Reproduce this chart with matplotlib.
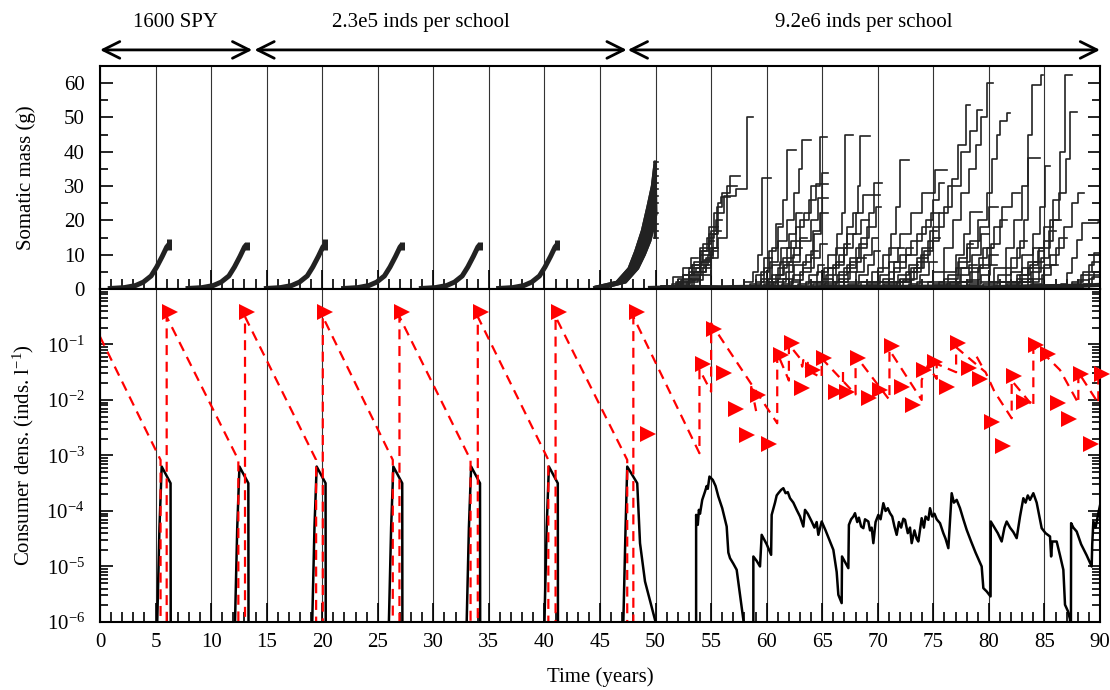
import numpy as np
import matplotlib
matplotlib.use("Agg")
import matplotlib.pyplot as plt
from matplotlib.patches import FancyArrowPatch, ArrowStyle
from matplotlib.ticker import MultipleLocator, LogLocator, NullFormatter, FixedLocator, FixedFormatter

plt.rcParams["font.family"] = ["Liberation Serif", "DejaVu Serif"]
plt.rcParams["mathtext.fontset"] = "custom"
plt.rcParams["mathtext.rm"] = "Liberation Serif"
plt.rcParams["mathtext.it"] = "Liberation Serif:italic"
plt.rcParams["font.size"] = 15

_INK = "#222222"
_GRID = "#333333"
_RED = "#ff0000"

# ---- regimes (top arrows) ----
REGIME_LABELS = ["1600 SPY", "2.3e5 inds per school", "9.2e6 inds per school"]
REGIME_START = [0.0, 13.9, 47.5]
REGIME_END = [13.7, 47.4, 90.0]
REGIME_LABEL_X = [6.8, 28.9, 68.7]

# ---- somatic mass: early cohorts (tight bundles) ----
SMALL_END = [6.2, 13.2, 20.25, 27.2, 34.2, 41.15]
SMALL_TOP = [14.5, 13.6, 14.5, 13.8, 13.8, 14.4]
SMALL_SHAPE_DT = [-5.5, -4.0, -3.0, -2.3, -1.6, -1.1, -0.6, -0.2, 0.0]
SMALL_SHAPE_M = [0.1, 0.4, 1.0, 2.0, 3.8, 6.4, 9.5, 12.2, 13.0]

BIG_LEFT_T = [44.5, 46.5, 47.6, 48.2, 48.8, 49.3, 49.7, 49.95]
BIG_LEFT_M = [0.5, 2.0, 6.0, 11.0, 17.0, 24.0, 30.0, 37.0]
BIG_RIGHT_T = [45.5, 47.3, 48.4, 49.0, 49.5, 49.8, 50.05]
BIG_RIGHT_M = [0.5, 2.0, 6.0, 10.0, 14.0, 18.0, 22.0]
BIG_END_M = [15, 17, 19, 22, 25, 27, 29, 31, 33, 35, 37]

# ---- somatic mass: individual trajectories after 50 y (time, mass) ----
GROUP_55 = [
    [(50.0, 0.5), (51.5, 1.5), (52.5, 4.0), (53.3, 7.0), (54.0, 11.0), (54.6, 15.0), (55.3, 22.0), (56.2, 27.0), (57.2, 29.0), (58.2, 50.2), (58.8, 50.2)],
    [(50.5, 0.5), (52.0, 2.0), (53.0, 5.0), (54.0, 10.0), (54.8, 16.0), (55.5, 24.0), (56.0, 28.0), (56.7, 33.0), (57.6, 33.0)],
    [(50.2, 0.5), (51.8, 2.0), (53.0, 6.0), (54.0, 12.0), (54.8, 18.0), (55.6, 25.0), (55.9, 26.9), (56.7, 26.9)],
    [(51.0, 1.0), (52.5, 4.0), (53.5, 8.0), (54.3, 13.0), (55.0, 17.0), (55.4, 20.0), (56.0, 20.0)],
    [(50.5, 1.0), (52.0, 3.0), (53.3, 7.0), (54.2, 11.0), (54.8, 14.0), (55.3, 14.0)],
    [(52.0, 1.0), (53.5, 5.0), (54.5, 9.0), (55.2, 12.0), (55.6, 12.0)],
    [(49.8, 0.3), (50.5, 1.0), (51.6, 3.6), (52.5, 6.0), (53.2, 9.0), (53.8, 9.0)],
    [(51.5, 0.5), (53.0, 3.0), (54.0, 7.0), (54.7, 10.0), (55.2, 16.0), (55.6, 18.0)],
    [(50.8, 0.5), (52.3, 2.5), (53.6, 6.0), (54.4, 8.5), (55.0, 8.5)],
    [(52.5, 0.5), (54.0, 4.0), (55.0, 9.0), (55.6, 15.0), (56.4, 30.0), (57.3, 30.0)],
    [(51.2, 0.5), (52.8, 2.0), (53.8, 5.0), (54.5, 7.0), (54.9, 7.0)],
    [(52.2, 0.5), (53.3, 2.5), (54.3, 6.0), (55.0, 11.0), (55.5, 11.0)],
    [(50.3, 0.5), (51.9, 1.5), (53.1, 4.0), (54.1, 8.0), (54.9, 12.0), (55.5, 17.0), (55.9, 17.0)],
]
GROUP_60 = [
    [(56.5, 0.5), (58.0, 2.0), (58.8, 5.0), (59.2, 10.0), (59.55, 16.0), (59.6, 32.3), (60.4, 32.3)],
    [(57.5, 0.5), (59.0, 2.0), (59.8, 6.0), (60.5, 12.0), (61.0, 18.0), (61.5, 26.0), (61.8, 40.5), (62.6, 40.5)],
    [(58.0, 0.5), (59.5, 3.0), (60.3, 8.0), (61.0, 14.0), (61.8, 20.0), (62.5, 28.0), (62.9, 35.0), (63.15, 43.4), (64.0, 43.4)],
    [(58.5, 0.5), (60.0, 2.0), (61.0, 6.0), (61.8, 12.0), (62.6, 18.0), (63.4, 22.0), (64.0, 30.0), (64.8, 44.4), (65.4, 44.4)],
    [(58.0, 0.5), (59.5, 2.0), (60.5, 7.0), (61.3, 12.0), (62.0, 16.0), (62.6, 22.0), (63.2, 22.0)],
    [(59.0, 0.5), (60.2, 3.0), (61.2, 8.0), (62.2, 14.0), (63.0, 20.0), (63.8, 26.0), (64.4, 30.6), (65.5, 30.6)],
    [(59.5, 0.5), (61.0, 3.0), (62.0, 8.0), (63.0, 14.0), (64.0, 20.0), (64.6, 26.4), (65.5, 26.4)],
    [(59.0, 1.0), (60.5, 4.0), (61.5, 9.0), (62.5, 12.0), (63.2, 12.0)],
    [(60.0, 0.5), (61.5, 3.0), (62.5, 7.0), (63.5, 10.0), (64.2, 17.0), (64.8, 22.0), (65.0, 33.7), (65.5, 33.7)],
    [(57.8, 0.5), (59.0, 4.0), (59.8, 9.0), (60.5, 9.0)],
    [(60.5, 0.5), (62.0, 2.0), (63.0, 5.0), (64.0, 9.0), (64.8, 13.0), (65.4, 13.0)],
    [(57.0, 0.3), (58.5, 1.5), (59.5, 5.0), (60.2, 11.0), (60.8, 19.0), (61.3, 19.0)],
    [(61.0, 0.5), (62.3, 2.5), (63.3, 6.0), (64.3, 16.0), (64.9, 22.0), (65.5, 22.0)],
    [(58.3, 0.5), (59.8, 1.5), (60.8, 4.0), (61.6, 7.0), (62.3, 7.0)],
    [(59.3, 0.5), (60.6, 2.0), (61.7, 5.0), (62.4, 10.0), (63.0, 15.0), (63.6, 15.0)],
    [(60.2, 0.5), (61.4, 1.5), (62.4, 4.0), (63.3, 8.0), (64.0, 11.0), (64.6, 11.0)],
    [(61.5, 0.3), (62.8, 1.5), (63.8, 4.0), (64.6, 7.0), (65.2, 7.0)],
]
GROUP_66 = [
    [(62.0, 0.5), (63.5, 2.0), (64.5, 5.0), (65.5, 10.0), (66.3, 16.0), (66.8, 22.0), (67.05, 44.9), (67.8, 44.9)],
    [(62.5, 0.5), (64.0, 2.0), (65.2, 6.0), (66.2, 12.0), (67.2, 18.0), (67.8, 22.0), (68.2, 30.0), (68.4, 44.6), (69.3, 44.6)],
    [(63.0, 0.5), (64.5, 2.0), (65.5, 6.0), (66.5, 10.0), (67.2, 16.0), (68.0, 22.0), (68.7, 27.4), (70.2, 27.4)],
    [(63.5, 0.5), (65.0, 3.0), (66.0, 7.0), (67.0, 12.0), (67.8, 16.0), (68.5, 20.0), (69.2, 20.0)],
    [(64.0, 0.5), (65.5, 2.0), (66.5, 5.0), (67.5, 9.0), (68.3, 13.0), (69.0, 13.0)],
    [(64.5, 0.5), (66.0, 2.0), (67.0, 6.0), (68.0, 12.0), (69.0, 18.0), (69.8, 24.0), (70.3, 24.0)],
    [(65.0, 0.5), (66.5, 3.0), (67.5, 8.0), (68.5, 15.0), (69.2, 22.0), (69.7, 31.0), (70.4, 31.0)],
    [(65.5, 0.5), (67.0, 2.0), (68.0, 5.0), (68.8, 10.0), (69.5, 15.0), (70.0, 15.0)],
    [(62.8, 0.5), (64.2, 1.5), (65.3, 4.0), (66.2, 8.0), (67.0, 13.0), (67.5, 13.0)],
    [(63.8, 0.5), (65.2, 1.5), (66.3, 4.0), (67.2, 7.0), (67.9, 7.0)],
    [(64.8, 0.5), (66.2, 2.0), (67.3, 5.0), (68.1, 9.0), (68.9, 9.0)],
    [(66.0, 0.3), (67.3, 1.5), (68.3, 4.0), (69.1, 7.0), (69.7, 11.0), (70.2, 11.0)],
]
GROUP_72 = [
    [(66.5, 0.5), (68.0, 2.0), (69.5, 5.0), (70.5, 10.0), (71.2, 16.0), (71.6, 24.0), (72.0, 37.6), (72.8, 37.6)],
    [(67.0, 0.5), (68.5, 2.0), (70.0, 6.0), (71.0, 12.0), (72.0, 16.0), (73.0, 22.0), (74.0, 28.0), (75.15, 34.7), (76.2, 34.7)],
    [(68.0, 0.5), (69.5, 2.0), (71.0, 5.0), (72.0, 10.0), (73.0, 14.0), (74.0, 18.0), (74.8, 22.0), (75.5, 22.0)],
    [(68.5, 0.5), (70.0, 2.0), (71.5, 6.0), (72.5, 10.0), (73.5, 16.0), (74.3, 20.0), (75.0, 26.0), (75.5, 31.0), (76.0, 31.0)],
    [(69.0, 0.5), (70.5, 3.0), (71.5, 8.0), (72.5, 12.0), (73.2, 12.0)],
    [(70.0, 0.5), (71.5, 2.0), (73.0, 6.0), (74.0, 12.0), (75.0, 18.0), (76.0, 24.0), (76.7, 32.0), (77.2, 42.0), (77.9, 53.6), (78.3, 53.6)],
    [(70.5, 0.5), (72.0, 3.0), (73.5, 8.0), (74.5, 14.0), (75.5, 22.0), (76.3, 30.0), (77.5, 40.0), (78.3, 46.0), (78.9, 52.2), (79.4, 52.2)],
    [(69.5, 0.5), (71.0, 2.0), (72.5, 5.0), (73.5, 9.0), (74.5, 9.0)],
    [(71.0, 0.5), (72.3, 2.5), (73.3, 6.0), (74.2, 11.0), (75.0, 15.0), (75.6, 15.0)],
    [(67.5, 0.5), (69.0, 1.5), (70.2, 4.0), (71.0, 8.0), (71.8, 12.0), (72.4, 12.0)],
    [(69.2, 0.5), (70.6, 1.5), (71.8, 4.0), (72.8, 7.0), (73.6, 7.0)],
    [(71.5, 0.3), (72.8, 1.5), (73.8, 4.0), (74.6, 8.0), (75.3, 8.0)],
    [(70.2, 0.5), (71.7, 2.0), (72.9, 5.0), (73.9, 10.0), (74.7, 17.0), (75.3, 17.0)],
]
GROUP_78 = [
    [(72.0, 0.5), (73.5, 2.0), (75.0, 5.0), (76.0, 12.0), (76.8, 20.0), (77.5, 28.0), (78.2, 35.0), (78.8, 42.0), (79.3, 50.0), (79.8, 60.0), (80.4, 60.0)],
    [(73.0, 0.5), (74.5, 2.0), (76.0, 5.0), (77.0, 10.0), (77.8, 16.0), (78.3, 22.5), (79.4, 22.5)],
    [(74.0, 0.5), (75.5, 2.0), (77.0, 6.0), (78.0, 12.0), (79.0, 20.0), (79.8, 28.0), (80.3, 38.0), (80.7, 45.0), (81.0, 49.0), (81.6, 51.2), (81.9, 51.2)],
    [(74.5, 0.5), (76.0, 3.0), (77.2, 8.0), (78.3, 14.0), (79.2, 18.0), (80.0, 24.0), (80.8, 24.0)],
    [(75.0, 0.5), (76.5, 2.0), (77.5, 6.0), (78.5, 10.0), (79.3, 16.0), (80.0, 16.0)],
    [(75.5, 0.5), (77.0, 2.0), (78.5, 6.0), (79.5, 12.0), (80.5, 18.0), (81.2, 24.0), (82.05, 27.9), (82.8, 27.9)],
    [(76.0, 0.5), (77.5, 2.0), (79.0, 6.0), (80.0, 10.0), (80.8, 10.0)],
    [(73.5, 0.5), (75.0, 1.5), (76.3, 4.0), (77.3, 9.0), (78.0, 13.0), (78.6, 13.0)],
    [(76.5, 0.5), (78.0, 2.5), (79.2, 7.0), (80.2, 13.0), (81.0, 20.0), (81.6, 20.0)],
    [(74.8, 0.5), (76.2, 1.5), (77.4, 4.0), (78.2, 7.0), (78.9, 7.0)],
    [(76.8, 0.3), (78.2, 1.5), (79.3, 4.0), (80.1, 7.0), (80.7, 7.0)],
    [(75.8, 0.5), (77.2, 2.0), (78.3, 5.0), (79.1, 9.0), (79.8, 12.0), (80.4, 12.0)],
]
GROUP_84 = [
    [(77.5, 0.5), (79.0, 2.0), (80.5, 6.0), (81.5, 12.0), (82.3, 20.0), (83.0, 30.0), (83.5, 45.0), (83.85, 59.5), (84.6, 59.5), (84.65, 62.4), (84.9, 62.4)],
    [(78.5, 0.5), (80.0, 2.0), (81.5, 6.0), (82.5, 12.0), (83.2, 20.0), (83.55, 38.1), (84.6, 38.1)],
    [(79.0, 0.5), (80.5, 2.0), (82.0, 5.0), (83.0, 10.0), (84.0, 16.0), (84.6, 24.0), (85.05, 35.7), (85.5, 35.7)],
    [(80.0, 0.5), (81.5, 2.0), (83.0, 6.0), (84.0, 12.0), (85.0, 18.0), (85.8, 26.0), (86.4, 40.0), (86.85, 62.4), (87.45, 62.4)],
    [(80.5, 0.5), (82.0, 2.0), (83.5, 6.0), (84.5, 12.0), (85.5, 20.0), (86.3, 28.0), (86.9, 38.0), (87.3, 51.7), (87.9, 51.7)],
    [(81.0, 0.5), (82.5, 3.0), (84.0, 8.0), (85.0, 14.0), (85.8, 20.0), (86.5, 20.0)],
    [(81.5, 0.5), (83.0, 2.0), (84.5, 6.0), (85.5, 10.0), (86.3, 15.0), (87.0, 15.0)],
    [(79.5, 0.5), (81.0, 2.0), (82.5, 4.0), (83.5, 8.0), (84.3, 8.0)],
    [(82.0, 0.5), (83.5, 3.0), (85.0, 7.0), (86.0, 12.0), (86.8, 18.0), (87.5, 25.0), (88.0, 28.0), (88.6, 28.0)],
    [(78.0, 0.5), (79.5, 1.5), (80.8, 4.0), (82.0, 9.0), (82.8, 14.0), (83.4, 14.0)],
    [(80.2, 0.5), (81.6, 1.5), (82.8, 4.0), (83.7, 7.0), (84.4, 11.0), (85.0, 11.0)],
    [(82.5, 0.3), (83.8, 1.5), (84.8, 4.0), (85.6, 7.0), (86.2, 7.0)],
    [(81.2, 0.5), (82.6, 2.0), (83.8, 5.0), (84.7, 9.0), (85.4, 17.0), (86.0, 17.0)],
]
GROUP_89 = [
    [(85.5, 0.3), (86.5, 1.5), (87.0, 4.6), (87.5, 9.0), (87.9, 14.3), (88.35, 19.1), (89.85, 19.6), (90.0, 19.6)],
    [(86.5, 0.3), (87.5, 1.5), (88.3, 4.0), (89.0, 7.0), (89.5, 10.4), (90.0, 10.4)],
    [(87.0, 0.3), (88.0, 1.0), (89.0, 3.0), (89.5, 5.0), (90.0, 6.0)],
    [(86.0, 0.3), (87.5, 2.0), (88.5, 5.0), (89.3, 8.0), (90.0, 8.0)],
    [(87.5, 0.3), (88.5, 1.5), (89.3, 3.5), (90.0, 4.5)],
    [(85.0, 0.3), (86.8, 1.0), (88.0, 2.5), (89.0, 4.0), (90.0, 5.0)],
]

# dense layer of small fish along the bottom
FLOOR_T = [49.5, 53.0, 56.0, 60.0, 64.0, 68.0, 72.0, 76.0, 80.0, 84.0, 88.0, 90.0]
FLOOR_M = [0.3, 0.6, 0.5, 0.7, 0.5, 0.7, 0.6, 0.7, 0.5, 0.8, 0.9, 1.2]

# ---- consumer density (log10 of inds/l) ----
BLACK_RISE = [5.35, 12.35, 19.3, 26.2, 33.2, 40.2]
BLACK_SHAPE_DT = [-0.25, -0.2, 0.0, 0.2, 1.0, 1.02]
BLACK_SHAPE_LOG = [-7.0, -6.0, -4.3, -3.2, -3.5, -7.0]

BLACK_LATE = [
    [(47.05, -7.0), (47.1, -6.0), (47.3, -4.3), (47.45, -3.2), (48.35, -3.5), (48.6, -4.58),
     (49.05, -5.27), (50.0, -6.0), (50.1, -6.3)],
    [(53.6, -7.0), (53.65, -6.0), (53.65, -4.07), (53.8, -4.25), (53.9, -3.98), (54.0, -4.05),
     (54.2, -3.8), (54.45, -3.65), (54.6, -3.55), (54.7, -3.6), (54.85, -3.38), (55.15, -3.44),
     (55.4, -3.55), (55.65, -3.74), (56.0, -3.95), (56.4, -4.28), (56.55, -4.75), (56.7, -4.85),
     (57.0, -4.95), (57.3, -5.06), (57.6, -5.51), (57.9, -5.96), (58.05, -6.3)],
    [(58.8, -7.0), (58.8, -4.82), (59.1, -4.9), (59.4, -5.0), (59.55, -4.43), (60.0, -4.6),
     (60.4, -4.79), (60.45, -4.07), (60.75, -3.85), (60.9, -3.72), (61.05, -3.68), (61.3, -3.62),
     (61.5, -3.59), (61.7, -3.68), (61.9, -3.66), (62.1, -3.77), (62.4, -3.85), (62.7, -3.98),
     (63.0, -4.1), (63.3, -4.28), (63.45, -3.98), (63.7, -4.05), (64.05, -4.19), (64.3, -4.3),
     (64.5, -4.2), (64.65, -4.43), (64.95, -4.19), (65.3, -4.35), (65.6, -4.5), (66.0, -4.7),
     (66.3, -5.1), (66.45, -5.51), (66.75, -5.66), (66.78, -4.82), (67.35, -5.03), (67.4, -4.25),
     (67.6, -4.15), (67.8, -4.1), (67.95, -4.04), (68.15, -4.2), (68.3, -4.12), (68.5, -4.28),
     (68.7, -4.31), (68.85, -4.15), (69.15, -4.19), (69.3, -4.35), (69.45, -4.3), (69.6, -4.58),
     (69.8, -4.2), (70.05, -4.07), (70.25, -4.15), (70.5, -3.86), (70.7, -4.0), (70.9, -3.95),
     (71.1, -4.04), (71.3, -4.1), (71.5, -4.28), (71.7, -4.43), (71.9, -4.2), (72.1, -4.3),
     (72.3, -4.14), (72.45, -4.16), (72.7, -4.4), (72.9, -4.3), (73.05, -4.58), (73.3, -4.35),
     (73.5, -4.5), (73.65, -4.55), (73.95, -4.13), (74.15, -4.3), (74.3, -4.1), (74.55, -4.16),
     (74.7, -3.95), (74.9, -4.1), (75.1, -4.05), (75.3, -4.15), (75.6, -4.22), (75.9, -4.4),
     (76.1, -4.5), (76.35, -4.67), (76.65, -3.68), (76.85, -3.85), (77.1, -3.8), (77.4, -3.95),
     (77.7, -4.15), (78.0, -4.34), (78.4, -4.55), (78.8, -4.75), (79.35, -5.0), (79.5, -5.39),
     (79.8, -5.45), (80.15, -5.54), (80.17, -4.19), (80.5, -4.3), (80.8, -4.4), (81.15, -4.55),
     (81.4, -4.3), (81.6, -4.19), (81.9, -4.3), (82.2, -4.38), (82.5, -4.49), (82.8, -4.1),
     (83.1, -3.77), (83.3, -3.85), (83.5, -3.72), (83.7, -3.8), (84.0, -3.68), (84.3, -3.85),
     (84.5, -4.05), (84.75, -4.31), (85.1, -4.4), (85.5, -4.46), (85.6, -4.82), (85.7, -4.55),
     (86.1, -4.55), (86.4, -4.8), (86.7, -5.06), (86.85, -5.69), (87.1, -5.8), (87.3, -5.95),
     (87.32, -6.3), (87.38, -6.3), (87.4, -4.22), (87.6, -4.3), (87.9, -4.37), (88.3, -4.6),
     (88.8, -4.8), (89.25, -5.0), (89.3, -4.6), (89.4, -4.19), (89.6, -4.3), (89.85, -4.04),
     (90.0, -3.9)],
]

# ---- red dashed school trajectory (log10) ----
RED_START = (0.0, -0.86)
RED_DOWN_X = [5.45, 12.45, 19.45, 26.35, 33.35, 40.35, 47.45]
RED_UP_X = [6.0, 13.05, 20.05, 26.95, 34.0, 41.0, 48.0]
RED_LOW_LOG = -3.08
RED_TOP_LOG = -0.5
RED_LATE_X = [53.95, 53.95, 55.0, 55.0, 60.95, 60.95, 62.0, 62.0, 63.0, 63.2, 63.3, 63.6, 63.7,
              64.0, 64.95, 64.95, 68.0, 68.0, 71.05, 71.05, 73.95, 73.95, 74.5, 75.3, 75.3,
              77.05, 77.05, 79.7, 80.5, 82.05, 82.05, 84.0, 84.0, 85.2, 86.4, 88.05, 88.05,
              89.85, 89.85]
RED_LATE_LOG = [-2.96, -1.45, -1.85, -0.62, -2.42, -1.15, -1.65, -1.0, -1.25, -1.4, -1.28, -1.45,
                -1.33, -1.5, -1.6, -1.25, -1.9, -1.2, -2.0, -1.1, -2.0, -1.64, -1.38, -1.62,
                -1.35, -1.5, -1.05, -1.5, -1.85, -2.33, -1.65, -2.12, -1.05, -1.22, -1.46,
                -2.06, -1.5, -2.06, -1.55]
RED_EXTRA = [
    [(58.6, -1.75), (59.05, -2.2)],
    [(66.9, -1.5), (66.9, -1.72)],
    [(78.9, -1.22), (79.65, -1.49)],
]

TRI_X = [6.3, 13.25, 20.25, 27.2, 34.3, 41.3, 48.3, 49.3, 54.25, 55.25, 56.2, 57.25, 58.25,
         59.25, 60.25, 61.25, 62.25, 63.2, 64.2, 65.2, 66.2, 67.2, 68.2, 69.25, 70.2, 71.25,
         72.15, 73.2, 74.2, 75.15, 76.2, 77.2, 78.2, 79.2, 80.25, 81.25, 82.3, 83.2, 84.2,
         85.3, 86.2, 87.2, 88.3, 89.2, 90.2]
TRI_LOG = [-0.42, -0.42, -0.42, -0.42, -0.42, -0.42, -0.42, -2.62, -1.36, -0.72, -1.52, -2.17,
           -2.63, -1.91, -2.79, -1.19, -0.97, -1.78, -1.46, -1.24, -1.86, -1.86, -1.24, -1.97,
           -1.82, -1.03, -1.77, -2.09, -1.46, -1.31, -1.76, -0.98, -1.43, -1.63, -2.39, -2.83,
           -1.56, -2.03, -1.01, -1.17, -2.05, -2.35, -1.53, -2.79, -1.54]

X_TICKS = list(range(0, 91, 5))
MASS_TICKS = [0, 10, 20, 30, 40, 50, 60]
DENS_DECADES = [-6, -5, -4, -3, -2, -1, 0]


def style_axis(ax):
    for sp in ax.spines.values():
        sp.set_linewidth(1.5)
    ax.set_xlim(0, 90)
    ax.xaxis.set_major_locator(FixedLocator(X_TICKS))
    ax.xaxis.set_minor_locator(MultipleLocator(1))
    ax.grid(axis="x", which="major", color=_GRID, lw=0.8)
    ax.set_axisbelow(True)
    ax.tick_params(axis="x", which="major", direction="in", length=14, width=1.2, top=False, pad=8)
    ax.tick_params(axis="x", which="minor", direction="in", length=7, width=1.2, top=False)
    ax.tick_params(axis="y", which="major", direction="in", length=9, width=1.2, left=True, right=True, pad=11)
    ax.tick_params(axis="y", which="minor", direction="in", length=6, width=1.2, left=True, right=True)


fig = plt.figure(figsize=(11.1, 6.9), dpi=100)
ax_top = fig.add_axes([0.0901, 0.5812, 0.9009, 0.3232])
ax_bot = fig.add_axes([0.0901, 0.0986, 0.9009, 0.4826])

# ---------- top panel ----------
style_axis(ax_top)
ax_top.set_ylim(0, 65)
ax_top.yaxis.set_major_locator(FixedLocator(MASS_TICKS))
ax_top.yaxis.set_minor_locator(MultipleLocator(5))
ax_top.tick_params(axis="x", labelbottom=False)
ax_top.set_ylabel("Somatic mass (g)")
ax_top.yaxis.set_label_coords(-0.064, 0.5)

for end, top in zip(SMALL_END, SMALL_TOP):
    t = [end + d for d in SMALL_SHAPE_DT]
    ax_top.plot(t, SMALL_SHAPE_M, color=_INK, lw=3.6, solid_capstyle="butt")
    ax_top.plot([end, end], [11.5, top], color=_INK, lw=3.6, solid_capstyle="butt")

ax_top.fill(BIG_LEFT_T + BIG_RIGHT_T[::-1], BIG_LEFT_M + BIG_RIGHT_M[::-1], color=_INK, lw=2)
ax_top.plot(BIG_LEFT_T, BIG_LEFT_M, color=_INK, lw=2)
ax_top.plot(BIG_RIGHT_T, BIG_RIGHT_M, color=_INK, lw=2)
ax_top.plot([49.95, 50.0], [15, 37], color=_INK, lw=2)
for m in BIG_END_M:
    ax_top.plot([49.9, 50.2], [m, m], color=_INK, lw=1.2)

ax_top.plot(FLOOR_T, FLOOR_M, color=_INK, lw=3.0)
for group in (GROUP_55, GROUP_60, GROUP_66, GROUP_72, GROUP_78, GROUP_84, GROUP_89):
    for traj in group:
        t, m = zip(*traj)
        ax_top.plot(t, m, drawstyle="steps-post", color=_INK, lw=1.2)

for x0, x1, lab, lx in zip(REGIME_START, REGIME_END, REGIME_LABELS, REGIME_LABEL_X):
    arr = FancyArrowPatch((x0, 1.072), (x1, 1.072),
                          transform=ax_top.get_xaxis_transform(),
                          arrowstyle=ArrowStyle("<->", head_length=12, head_width=6),
                          mutation_scale=1, lw=2.0, color="black",
                          shrinkA=0, shrinkB=0, clip_on=False)
    ax_top.add_artist(arr)
    ax_top.text(lx, 1.197, lab, transform=ax_top.get_xaxis_transform(),
                ha="center", va="center")

# ---------- bottom panel ----------
style_axis(ax_bot)
ax_bot.set_yscale("log")
ax_bot.set_ylim(1e-6, 1)
ax_bot.yaxis.set_major_locator(FixedLocator([10.0 ** d for d in DENS_DECADES]))
ax_bot.yaxis.set_major_formatter(FixedFormatter(
    [r"$10^{%d}$" % d if d < 0 else "" for d in DENS_DECADES]))
ax_bot.yaxis.set_minor_locator(LogLocator(base=10, subs=range(2, 10), numticks=20))
ax_bot.yaxis.set_minor_formatter(NullFormatter())
ax_bot.set_ylabel(r"Consumer dens. (inds. l$^{-1}$)")
ax_bot.yaxis.set_label_coords(-0.064, 0.5)
ax_bot.set_xlabel("Time (years)")
ax_bot.xaxis.set_label_coords(0.5, -0.135)

# black consumer density
for r in BLACK_RISE:
    ax_bot.plot([r + d for d in BLACK_SHAPE_DT], 10.0 ** np.array(BLACK_SHAPE_LOG),
                color="black", lw=1.8)
for seg in BLACK_LATE:
    t, v = zip(*seg)
    ax_bot.plot(t, 10.0 ** np.array(v), color="black", lw=1.8)

# red dashed school path
rx, ry = [RED_START[0]], [RED_START[1]]
for d, u in zip(RED_DOWN_X, RED_UP_X):
    rx += [d, d, u, u]
    ry += [RED_LOW_LOG, -7.0, -7.0, RED_TOP_LOG]
rx += RED_LATE_X
ry += RED_LATE_LOG
ax_bot.plot(rx, 10.0 ** np.array(ry), color=_RED, lw=1.6, dashes=(4.5, 3))
for seg in RED_EXTRA:
    t, v = zip(*seg)
    ax_bot.plot(t, 10.0 ** np.array(v), color=_RED, lw=1.6, dashes=(4.5, 3))

ax_bot.plot(TRI_X, 10.0 ** np.array(TRI_LOG), linestyle="none", marker=">",
            ms=12, color=_RED, mew=0, clip_on=False, zorder=5)

fig.savefig("out.png", dpi=100)
